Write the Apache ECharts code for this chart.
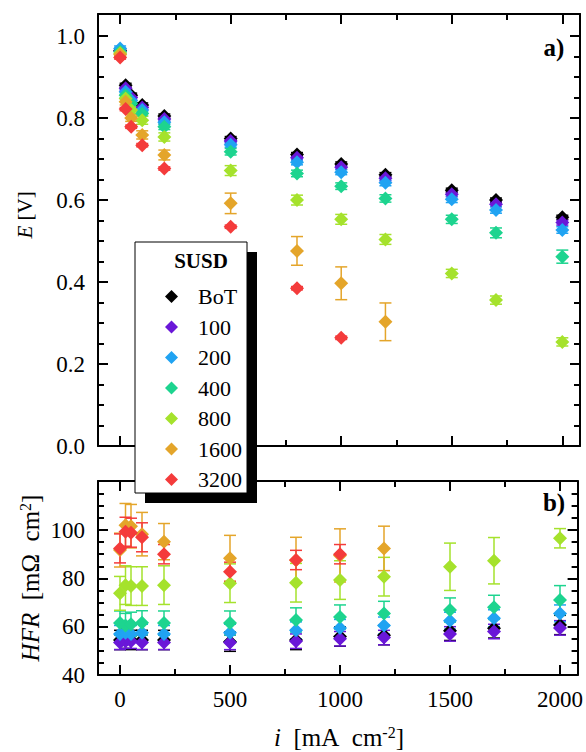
<!DOCTYPE html>
<html>
<head>
<meta charset="utf-8">
<script src="https://cdn.jsdelivr.net/npm/echarts@6/dist/echarts.min.js"></script>
<style>
  html, body { margin: 0; padding: 0; background: #fff; }
  #container { width: 586px; height: 752px; }
</style>
</head>
<body>
<div id="container"></div>
<script>
var dom = document.getElementById('container');
var myChart = echarts.init(dom, null, { renderer: 'svg' });

// current densities, mA cm-2
const currents = [0, 25, 50, 100, 200, 500, 800, 1000, 1200, 1500, 1700, 2000];
const susd = ['BoT', '100', '200', '400', '800', '1600', '3200'];
const colors = ['#000000', '#6a17d8', '#20a3f2', '#1dd48f', '#a5e22c', '#e4a52a', '#f43b3b'];

// cell voltage E [V]
const eBoT  = [0.965, 0.880, 0.856, 0.832, 0.805, 0.750, 0.711, 0.688, 0.662, 0.624, 0.600, 0.558];
const e100  = [0.963, 0.873, 0.850, 0.826, 0.798, 0.744, 0.703, 0.680, 0.653, 0.614, 0.590, 0.545];
const e200  = [0.970, 0.864, 0.843, 0.820, 0.790, 0.735, 0.692, 0.668, 0.642, 0.602, 0.576, 0.527];
const e400  = [0.962, 0.856, 0.835, 0.811, 0.779, 0.718, 0.665, 0.634, 0.604, 0.553, 0.520, 0.462];
const e800  = [0.958, 0.848, 0.820, 0.795, 0.754, 0.672, 0.600, 0.553, 0.504, 0.421, 0.356, 0.254];
const e1600 = [0.955, 0.840, 0.800, 0.759, 0.710, 0.592, 0.476, 0.397, 0.303];
const e3200 = [0.948, 0.822, 0.779, 0.734, 0.677, 0.535, 0.385, 0.264];

// error of E
const eErrBoT  = [0.005, 0.005, 0.005, 0.005, 0.005, 0.005, 0.005, 0.005, 0.005, 0.005, 0.005, 0.005];
const eErr100  = [0.005, 0.005, 0.005, 0.005, 0.005, 0.005, 0.005, 0.005, 0.006, 0.006, 0.006, 0.006];
const eErr200  = [0.006, 0.006, 0.006, 0.006, 0.006, 0.006, 0.006, 0.006, 0.007, 0.008, 0.008, 0.008];
const eErr400  = [0.006, 0.006, 0.006, 0.006, 0.007, 0.008, 0.008, 0.008, 0.009, 0.010, 0.012, 0.016];
const eErr800  = [0.006, 0.008, 0.008, 0.010, 0.010, 0.012, 0.012, 0.012, 0.012, 0.010, 0.010, 0.010];
const eErr1600 = [0.005, 0.008, 0.008, 0.010, 0.012, 0.025, 0.035, 0.040, 0.046];
const eErr3200 = [0.004, 0.004, 0.004, 0.004, 0.004, 0.004, 0.004, 0.004];

// high frequency resistance HFR [mOhm cm2]
const hBoT  = [54.5, 55.0, 54.5, 54.5, 54.5, 53.8, 54.5, 55.9, 56.5, 58.3, 59.3, 60.7];
const h100  = [53.5, 54.0, 54.0, 53.5, 53.5, 53.5, 54.0, 55.0, 55.5, 57.0, 58.0, 59.5];
const h200  = [57.0, 57.5, 57.0, 57.5, 57.0, 57.5, 58.5, 59.5, 60.5, 62.5, 63.5, 65.5];
const h400  = [61.5, 60.5, 61.0, 61.6, 61.5, 61.5, 62.8, 64.0, 65.5, 66.9, 68.0, 71.0];
const h800  = [73.8, 77.2, 76.8, 76.8, 77.2, 78.0, 78.2, 79.3, 80.7, 84.8, 87.3, 96.6];
const h1600 = [91.7, 102.0, 101.6, 98.3, 95.2, 88.3, 87.5, 89.5, 92.4];
const h3200 = [92.4, 99.3, 98.9, 97.0, 90.0, 82.7, 87.6, 90.0];

// error of HFR
const hErrBoT  = [4, 4, 4, 4, 4, 4, 4, 4, 4, 4, 4, 4];
const hErr100  = [3, 3, 3, 3, 3, 3, 3, 3, 3, 3, 3, 3];
const hErr200  = [3.5, 3.5, 3.5, 3.5, 3.5, 3.5, 3.5, 3.5, 3.5, 3.5, 3.5, 3.5];
const hErr400  = [5, 5, 5, 5, 5, 5, 5, 5, 5, 5, 5, 6];
const hErr800  = [7, 8, 8, 8, 8, 8, 8, 8, 8, 9.8, 9.6, 4];
const hErr1600 = [7, 9, 9, 9, 7.5, 9.5, 9.5, 11, 9.2];
const hErr3200 = [6, 6, 6, 6, 4, 4, 4, 4];

const eData = [eBoT, e100, e200, e400, e800, e1600, e3200];
const eErrs = [eErrBoT, eErr100, eErr200, eErr400, eErr800, eErr1600, eErr3200];
const hData = [hBoT, h100, h200, h400, h800, h1600, h3200];
const hErrs = [hErrBoT, hErr100, hErr200, hErr400, hErr800, hErr1600, hErr3200];

const xMajor = [0, 500, 1000, 1500, 2000];
const xMinor = [250, 750, 1250, 1750];
const eMajor = [0, 0.2, 0.4, 0.6, 0.8, 1.0];
const eMinor = [0.05, 0.1, 0.15, 0.25, 0.3, 0.35, 0.45, 0.5, 0.55, 0.65, 0.7, 0.75, 0.85, 0.9, 0.95];
const hMajor = [40, 60, 80, 100];
const hMinor = [45, 50, 55, 65, 70, 75, 85, 90, 95, 105, 110, 115];

const font = 'Liberation Serif';
const sp = '\u2002';

function axis(grid, pos, min, max, ticks, len, line, labels, fmt) {
  return {
    type: 'value', gridIndex: grid, position: pos, min: min, max: max,
    axisLine: { show: line, onZero: false, lineStyle: { color: '#000', width: 2 } },
    axisTick: { show: true, inside: true, length: len, customValues: ticks,
                lineStyle: { color: '#000', width: 2 } },
    axisLabel: { show: !!labels, customValues: labels || undefined, margin: 13,
                 fontFamily: font, fontSize: 23, color: '#000',
                 formatter: fmt || (v => String(v)) },
    splitLine: { show: false }
  };
}

function xAxes(grid, withLabels) {
  return [
    axis(grid, 'bottom', -100, 2080, xMajor, 10, true, withLabels ? xMajor : null),
    axis(grid, 'bottom', -100, 2080, xMinor, 6, false, null),
    axis(grid, 'top', -100, 2080, xMajor, 10, true, null),
    axis(grid, 'top', -100, 2080, xMinor, 6, false, null)
  ];
}

function yAxes(grid, min, max, major, minor, fmt) {
  return [
    axis(grid, 'left', min, max, major, 10, true, major, fmt),
    axis(grid, 'left', min, max, minor, 6, false, null),
    axis(grid, 'right', min, max, major, 10, true, null),
    axis(grid, 'right', min, max, minor, 6, false, null)
  ];
}

function errSeries(name, ys, errs, color, idx) {
  return {
    type: 'custom', name: name + ' err', xAxisIndex: idx, yAxisIndex: idx,
    silent: true,
    data: ys.map((v, i) => [currents[i], v, errs[i]]),
    renderItem: function (params, api) {
      const x = api.value(0), y = api.value(1), e = api.value(2);
      const a = api.coord([x, y + e]);
      const b = api.coord([x, y - e]);
      const w = 6;
      const st = { stroke: color, lineWidth: 1.5 };
      return {
        type: 'group',
        children: [
          { type: 'line', shape: { x1: a[0], y1: a[1], x2: b[0], y2: b[1] }, style: st },
          { type: 'line', shape: { x1: a[0] - w, y1: a[1], x2: a[0] + w, y2: a[1] }, style: st },
          { type: 'line', shape: { x1: b[0] - w, y1: b[1], x2: b[0] + w, y2: b[1] }, style: st }
        ]
      };
    }
  };
}

function dotSeries(name, ys, color, idx) {
  return {
    type: 'scatter', name: name, xAxisIndex: idx, yAxisIndex: idx,
    symbol: 'diamond', symbolSize: 14,
    itemStyle: { color: color, opacity: 1 },
    data: ys.map((v, i) => [currents[i], v])
  };
}

const series = [];
susd.forEach((n, k) => {
  series.push(errSeries(n, eData[k], eErrs[k], colors[k], 0));
  series.push(dotSeries(n, eData[k], colors[k], 0));
});
susd.forEach((n, k) => {
  series.push(errSeries(n, hData[k], hErrs[k], colors[k], 4));
  series.push(dotSeries(n, hData[k], colors[k], 4));
});

var option = {
  animation: false,
  backgroundColor: '#fff',
  color: colors,
  grid: [
    { left: 98, top: 14, width: 482, height: 432 },
    { left: 98, top: 481, width: 482, height: 194 }
  ],
  xAxis: xAxes(0, false).concat(xAxes(1, true)),
  yAxis: yAxes(0, 0, 1.054, eMajor, eMinor, v => v.toFixed(1))
    .concat(yAxes(1, 40, 120.3, hMajor, hMinor)),
  legend: {
    data: susd.map(n => ({ name: n, icon: 'diamond' })),
    orient: 'vertical', left: 160, top: 280,
    itemWidth: 13, itemHeight: 13, itemGap: 7.5,
    selectedMode: false,
    textStyle: { fontFamily: font, fontSize: 22, color: '#000', lineHeight: 23,
                 padding: [0, 0, 0, 15] }
  },
  graphic: [
    { type: 'rect', z: 3, shape: { x: 145, y: 252, width: 112, height: 251 }, style: { fill: '#000' } },
    { type: 'rect', z: 3, shape: { x: 135, y: 242, width: 112, height: 251 },
      style: { fill: '#fff', stroke: '#000', lineWidth: 1 } },
    { type: 'text', z: 5, x: 201, y: 261,
      style: { text: 'SUSD', fontFamily: font, fontSize: 21, fontWeight: 'bold', fill: '#000',
               align: 'center', verticalAlign: 'middle' } },
    { type: 'text', z: 5, x: 554, y: 47,
      style: { text: 'a)', fontFamily: font, fontSize: 25, fontWeight: 'bold', fill: '#000',
               align: 'center', verticalAlign: 'middle' } },
    { type: 'text', z: 5, x: 554, y: 502,
      style: { text: 'b)', fontFamily: font, fontSize: 25, fontWeight: 'bold', fill: '#000',
               align: 'center', verticalAlign: 'middle' } },
    { type: 'text', z: 5, x: 25, y: 215, rotation: Math.PI / 2,
      style: { text: '{i|E} [V]', fontFamily: font, fontSize: 21, fill: '#000', align: 'center', verticalAlign: 'middle',
               rich: { i: { fontStyle: 'italic', fontFamily: font, fontSize: 21 } } } },
    { type: 'text', z: 5, x: 30, y: 578, rotation: Math.PI / 2,
      style: { text: '{i|HFR}' + sp + '[mΩ' + sp + 'cm{s|2}]', fontFamily: font, fontSize: 25, fill: '#000',
               align: 'center', verticalAlign: 'middle',
               rich: { i: { fontStyle: 'italic', fontFamily: font, fontSize: 25 },
                       s: { fontFamily: font, fontSize: 16, verticalAlign: 'top' } } } },
    { type: 'text', z: 5, x: 339, y: 737,
      style: { text: '{i|i}' + sp + '[mA' + sp + 'cm{s|-2}]', fontFamily: font, fontSize: 25, fill: '#000',
               align: 'center', verticalAlign: 'middle',
               rich: { i: { fontStyle: 'italic', fontFamily: font, fontSize: 25 },
                       s: { fontFamily: font, fontSize: 16, verticalAlign: 'top' } } } }
  ],
  series: series
};

if (option && typeof option === 'object') {
  myChart.setOption(option);
}

window.addEventListener('resize', myChart.resize);
</script>
</body>
</html>
